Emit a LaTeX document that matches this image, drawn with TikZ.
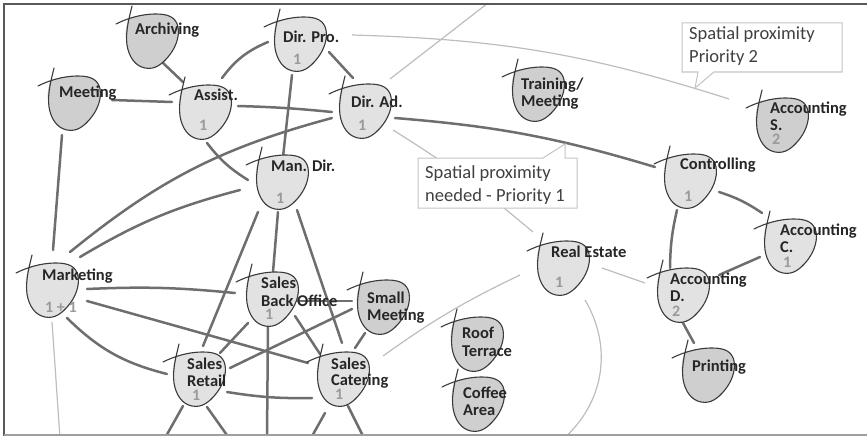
\documentclass[tikz,border=0pt]{standalone}
\usepackage{fontspec}
\setmainfont{Carlito}
\usetikzlibrary{calc}

\definecolor{linkdark}{HTML}{6E6E6E}
\definecolor{linklight}{HTML}{BDBDBD}
\definecolor{blobedge}{HTML}{3A3A3A}
\definecolor{blobdark}{HTML}{CFCFCF}
\definecolor{bloblight}{HTML}{E2E2E2}
\definecolor{labelink}{HTML}{262626}
\definecolor{numink}{HTML}{9A9A9A}
\definecolor{calloutedge}{HTML}{C4C4C4}
\definecolor{calloutink}{HTML}{404040}
\definecolor{frameline}{HTML}{595959}

\tikzset{
  link/.style={draw=linkdark, line width=2.5pt, line cap=round},
  thinlink/.style={draw=linklight, line width=1.2pt},
  blobline/.style={draw=blobedge, line width=1.1pt, line cap=round},
  lbltext/.style={text=labelink, font=\fontsize{16.5}{17}\selectfont\bfseries, inner sep=0pt, anchor=base west},
  numlbl/.style={text=numink, font=\fontsize{16}{16}\selectfont\bfseries, inner sep=0pt, anchor=base west},
  callbox/.style={draw=calloutedge, fill=white, line width=1pt},
  calltext/.style={text=calloutink, font=\fontsize{18.5}{19}\selectfont, inner sep=0pt, anchor=base west},
}

% hand-drawn room bubble: #1 name, #2,#3 top-left crossing point, #4 fill colour
\newcommand\blob[4]{%
  \coordinate (#1) at (#2,#3);
  \begin{scope}[shift={(#2,#3)}]
    \fill[#4] (-2,0) .. controls (-5,12) and (-5,18) .. (-3,26)
      .. controls (-1,38) and (5,47) .. (15,49)
      .. controls (25,51) and (32,45) .. (38,38)
      .. controls (45,30) and (50,18) .. (48,8)
      .. controls (46,-2) and (38,-5) .. (26,-5)
      .. controls (14,-5) and (4,-3) .. cycle;
    \draw[blobline] (2,-13) .. controls (0,-4) and (-5,12) .. (-3,26)
      .. controls (-1,38) and (5,47) .. (15,49)
      .. controls (25,51) and (32,45) .. (38,38)
      .. controls (45,30) and (50,18) .. (48,8)
      .. controls (46,-2) and (38,-5) .. (26,-5)
      .. controls (10,-5) and (-4,0) .. (-14,5);
  \end{scope}}

% text line of a bubble label
\newcommand\lbl[4]{\node[lbltext] (#1) at (#2,#3) {#4};}
\newcommand\num[4]{\node[numlbl] (#1) at (#2,#3) {#4};}

\begin{document}
\begin{tikzpicture}[x=1pt, y=-1pt]
\useasboundingbox (0,0) rectangle (867,436);
\begin{scope}
\clip (0,0) rectangle (867,436);

% anchor points of the bubbles
\coordinate (arch) at (130,19);
\coordinate (meet) at (52,81);
\coordinate (assist) at (183,90);
\coordinate (dpro) at (278,22);
\coordinate (dad) at (343,89);
\coordinate (train) at (516,72);
\coordinate (accS) at (760,103);
\coordinate (ctrl) at (668,159);
\coordinate (accC) at (768,224);
\coordinate (accD) at (661,273);
\coordinate (print) at (686,353);
\coordinate (real) at (541,246);
\coordinate (roof) at (455,322);
\coordinate (coffee) at (456,382);
\coordinate (small) at (361,285);
\coordinate (scat) at (321,357);
\coordinate (sret) at (177,357);
\coordinate (sbo) at (250,277);
\coordinate (mdir) at (260,160);
\coordinate (mkt) at (30,268);

% free ends leaving the sheet
\coordinate (topout) at (488,3);
\coordinate (mktout) at (60,438);
\coordinate (retout1) at (165,438);
\coordinate (retout2) at (229,438);
\coordinate (sboout) at (267,438);
\coordinate (catout1) at (311,438);
\coordinate (catout2) at (364,438);
\coordinate (realout) at (562,440);

% light relations
\draw[thinlink] ($(dpro)+(74,13)$) to[bend left=8] ($(accS)+(-31,-4)$);
\draw[thinlink] ($(dad)+(47,-10)$) -- (topout);
\draw[thinlink] ($(dad)+(50,41)$) to[bend left=4] ($(real)+(-8,-14)$);
\draw[thinlink] ($(real)+(61,22)$) -- ($(accD)+(-16,10)$);
\draw[thinlink] ($(real)+(-21,29)$) to[bend right=5] ($(scat)+(62,-1)$);
\draw[thinlink] ($(real)+(44,54)$) to[bend left=40] (realout);
\draw[thinlink] ($(mkt)+(22,54)$) -- (mktout);

% strong relations
\draw[link] ($(arch)+(33,44)$) -- ($(assist)+(0,-8)$);
\draw[link] ($(meet)+(60,19)$) -- ($(assist)+(-11,12)$);
\draw[link] ($(assist)+(39,-12)$) to[bend left=15] ($(dpro)+(-10,20)$);
\draw[link] ($(assist)+(55,16)$) to[bend left=2] ($(dad)+(-11,23)$);
\draw[link] ($(dpro)+(51,30)$) -- ($(dad)+(10,-11)$);
\draw[link] ($(dpro)+(14,53)$) -- ($(mdir)+(23,-3)$);
\draw[link] ($(assist)+(24,53)$) to[bend right=10] ($(mdir)+(-12,20)$);
\draw[link] ($(mkt)+(40,-16)$) to[bend left=12] ($(dad)+(-11,29)$);
\draw[link] ($(mkt)+(50,-11)$) to[bend left=8] ($(mdir)+(-20,30)$);
\draw[link] ($(meet)+(10,54)$) -- ($(mkt)+(23,-18)$);
\draw[link] ($(mdir)+(18,52)$) -- ($(sbo)+(23,-5)$);
\draw[link] ($(mdir)+(-2,52)$) -- ($(sret)+(26,-11)$);
\draw[link] ($(mdir)+(37,50)$) -- ($(scat)+(21,-14)$);
\draw[link] ($(mkt)+(57,21)$) to[bend left=4] ($(sbo)+(-15,16)$);
\draw[link] ($(mkt)+(57,33)$) -- ($(scat)+(-13,6)$);
\draw[link] ($(mkt)+(37,50)$) to[bend right=15] ($(sret)+(-10,17)$);
\draw[link] ($(sret)+(43,-4)$) -- ($(sbo)+(-2,46)$);
\draw[link] ($(sret)+(53,11)$) -- ($(small)+(-9,24)$);
\draw[link] ($(sret)+(50,35)$) to[bend right=5] ($(scat)+(-9,41)$);
\draw[link] ($(sbo)+(48,24)$) -- ($(small)+(-9,16)$);
\draw[link] ($(sbo)+(45,39)$) -- ($(scat)+(-1,-3)$);
\draw[link] ($(small)+(4,48)$) -- ($(scat)+(34,-9)$);
\draw[link] ($(sret)+(6,49)$) -- (retout1);
\draw[link] ($(sret)+(30,50)$) -- (retout2);
\draw[link] ($(sbo)+(18,46)$) -- (sboout);
\draw[link] ($(scat)+(4,56)$) -- (catout1);
\draw[link] ($(scat)+(27,49)$) -- (catout2);
\draw[link] ($(dad)+(52,29)$) to[bend left=6] ($(ctrl)+(-13,8)$);
\draw[link] ($(ctrl)+(51,33)$) to[bend left=8] ($(accC)+(-6,-11)$);
\draw[link] ($(ctrl)+(9,51)$) to[bend right=6] ($(accD)+(9,-5)$);
\draw[link] ($(accC)+(-8,33)$) -- ($(accD)+(58,2)$);
\draw[link] ($(accD)+(22,50)$) -- ($(print)+(8,-10)$);

% callouts
\coordinate (tiptwo) at (695,88);
\draw[callbox] (682,23) -- (842,23) -- (842,72) -- (714,72) -- (tiptwo) -- (698,72) -- (682,72) -- cycle;
\node[calltext] (cb2a) at (689,40) {Spatial proximity};
\node[calltext] (cb2b) at (689,63) {Priority 2};

\coordinate (tipone) at (565,144);
\draw[callbox] (418,158) -- (543,158) -- (tipone) -- (565,158) -- (577,158) -- (577,208) -- (418,208) -- cycle;
\node[calltext] (cb1a) at (425,178) {Spatial proximity};
\node[calltext] (cb1b) at (425,201) {needed - Priority 1};

% bubbles
\blob{arch}{130}{19}{blobdark}
\blob{meet}{52}{81}{blobdark}
\blob{assist}{183}{90}{bloblight}
\blob{dpro}{278}{22}{bloblight}
\blob{dad}{343}{89}{bloblight}
\blob{train}{516}{72}{blobdark}
\blob{accS}{760}{103}{blobdark}
\blob{ctrl}{668}{159}{bloblight}
\blob{accC}{768}{224}{bloblight}
\blob{accD}{661}{273}{bloblight}
\blob{print}{686}{353}{blobdark}
\blob{real}{541}{246}{bloblight}
\blob{roof}{455}{322}{blobdark}
\blob{coffee}{456}{382}{blobdark}
\blob{small}{361}{285}{blobdark}
\blob{scat}{321}{357}{bloblight}
\blob{sret}{177}{357}{bloblight}
\blob{sbo}{250}{277}{bloblight}
\blob{mdir}{260}{160}{bloblight}
\blob{mkt}{30}{268}{bloblight}

% labels
\lbl{tArch}{135}{35}{Archiving}
\lbl{tMeet}{59}{97}{Meeting}
\lbl{tAssist}{194}{100}{Assist.}
\num{nAssist}{199}{130}{1}
\lbl{tDpro}{283}{43}{Dir. Pro.}
\num{nDpro}{293}{64}{1}
\lbl{tDad}{351}{107}{Dir. Ad.}
\num{nDad}{358}{130}{1}
\lbl{tTrainA}{521}{89}{Training/}
\lbl{tTrainB}{521}{106}{Meeting}
\lbl{tAccSa}{770}{113}{Accounting}
\lbl{tAccSb}{770}{130}{S.}
\num{nAccS}{772}{144}{2}
\lbl{tCtrl}{680}{169}{Controlling}
\num{nCtrl}{684}{201}{1}
\lbl{tAccCa}{780}{235}{Accounting}
\lbl{tAccCb}{780}{252}{C.}
\num{nAccC}{783}{267}{1}
\lbl{tAccDa}{670}{284}{Accounting}
\lbl{tAccDb}{670}{301}{D.}
\num{nAccD}{672}{316}{2}
\lbl{tPrint}{692}{371}{Printing}
\lbl{tReal}{551}{257}{Real Estate}
\num{nReal}{555}{287}{1}
\lbl{tRoofA}{462}{338}{Roof}
\lbl{tRoofB}{462}{356}{Terrace}
\lbl{tCoffA}{463}{398}{Coffee}
\lbl{tCoffB}{463}{415}{Area}
\lbl{tSmallA}{367}{303}{Small}
\lbl{tSmallB}{367}{320}{Meeting}
\lbl{tScatA}{331}{369}{Sales}
\lbl{tScatB}{331}{385}{Catering}
\num{nScat}{335}{399}{1}
\lbl{tSretA}{187}{369}{Sales}
\lbl{tSretB}{187}{386}{Retail}
\num{nSret}{192}{400}{1}
\lbl{tSboA}{261}{288}{Sales}
\lbl{tSboB}{261}{306}{Back Office}
\num{nSbo}{265}{319}{1}
\lbl{tMdir}{271}{171}{Man. Dir.}
\num{nMdir}{276}{203}{1}
\lbl{tMkt}{42}{280}{Marketing}
\num{nMkt}{45}{312}{1 + 1}
\end{scope}

% sheet edges
\draw[frameline, line width=1.5pt] (867,4) -- (4,4) -- (4,436);
\draw[gray!75, line width=1.2pt] (4,435) -- (867,435);
\end{tikzpicture}
\end{document}
